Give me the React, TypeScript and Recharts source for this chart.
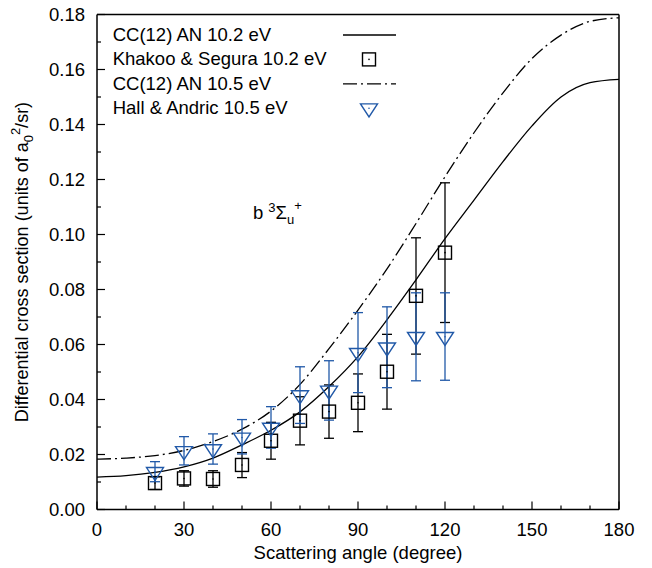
import React from 'react';
import {
    ComposedChart,
    Line,
    Scatter,
    XAxis,
    YAxis,
    ErrorBar,
    Legend,
    ReferenceDot,
} from 'recharts';

// theory curves (CC(12) AN)
const curveAngles = [0, 10, 20, 30, 40, 50, 60, 70, 80, 90, 100, 110, 120, 130, 140, 150, 160, 170, 180];
const cc102 = [0.0118, 0.0123, 0.0135, 0.0155, 0.0187, 0.0235, 0.0288, 0.0355, 0.0447, 0.0556, 0.069, 0.0835, 0.0985, 0.1125, 0.1265, 0.1395, 0.15, 0.1552, 0.1564];
const cc105 = [0.0183, 0.0187, 0.0196, 0.0215, 0.0247, 0.0292, 0.0358, 0.0455, 0.0585, 0.0725, 0.0875, 0.104, 0.121, 0.137, 0.1515, 0.164, 0.1725, 0.1775, 0.1788];

// Khakoo & Segura 10.2 eV
const ksAngles = [20, 30, 40, 50, 60, 70, 80, 90, 100, 110, 120];
const ksValues = [0.0096, 0.0113, 0.0111, 0.0162, 0.025, 0.0323, 0.0356, 0.0388, 0.0501, 0.0777, 0.0934];
const ksLow = [0.0073, 0.0085, 0.0081, 0.0116, 0.0183, 0.0235, 0.0259, 0.0283, 0.0365, 0.0565, 0.068];
const ksHigh = [0.0119, 0.0141, 0.0141, 0.0207, 0.0317, 0.041, 0.0453, 0.0493, 0.0637, 0.0988, 0.1188];

// Hall & Andric 10.5 eV
const haAngles = [20, 30, 40, 50, 60, 70, 80, 90, 100, 110, 120];
const haValues = [0.0137, 0.0213, 0.022, 0.0262, 0.0298, 0.0416, 0.0433, 0.057, 0.059, 0.0628, 0.0628];
const haLow = [0.0101, 0.0162, 0.0165, 0.0202, 0.0223, 0.0313, 0.0325, 0.0425, 0.0443, 0.0468, 0.047];
const haHigh = [0.0174, 0.0265, 0.0275, 0.0327, 0.0374, 0.0519, 0.0541, 0.0716, 0.0737, 0.0788, 0.0788];

const xTicks = [0, 10, 20, 30, 40, 50, 60, 70, 80, 90, 100, 110, 120, 130, 140, 150, 160, 170, 180];
const yTicks = [0, 0.01, 0.02, 0.03, 0.04, 0.05, 0.06, 0.07, 0.08, 0.09, 0.1, 0.11, 0.12, 0.13, 0.14, 0.15, 0.16, 0.17, 0.18];

const legendItems = ['CC(12) AN 10.2 eV', 'Khakoo & Segura 10.2 eV', 'CC(12) AN 10.5 eV', 'Hall & Andric 10.5 eV'];

const FONT = '"Liberation Sans", Arial, sans-serif';
const BLUE = '#2159a8';

const curve102 = curveAngles.map((a, i) => ({ angle: a, y: cc102[i] }));
const curve105 = curveAngles.map((a, i) => ({ angle: a, y: cc105[i] }));
const ksData = ksAngles.map((a, i) => ({ angle: a, y: ksValues[i], err: [ksValues[i] - ksLow[i], ksHigh[i] - ksValues[i]] }));
const haData = haAngles.map((a, i) => ({ angle: a, y: haValues[i], err: [haValues[i] - haLow[i], haHigh[i] - haValues[i]] }));

const Square = (props: any) => {
    const { cx, cy } = props;
    if (cx == null || cy == null) return null;
    return (
        <g>
            <rect x={cx - 6.5} y={cy - 6.5} width={13} height={13} fill="none" stroke="#000" strokeWidth={1.4} />
            <circle cx={cx} cy={cy} r={0.8} fill="#000" />
        </g>
    );
};

const Triangle = (props: any) => {
    const { cx, cy } = props;
    if (cx == null || cy == null) return null;
    return (
        <g>
            <polygon points={`${cx - 8.5},${cy - 4.3} ${cx + 8.5},${cy - 4.3} ${cx},${cy + 8.7}`} fill="none" stroke={BLUE} strokeWidth={1.4} />
            <circle cx={cx} cy={cy} r={0.8} fill={BLUE} />
        </g>
    );
};

const BottomTick = (props: any) => {
    const { x, y, payload } = props;
    const major = payload.value % 30 === 0;
    return (
        <g>
            <line x1={x} x2={x} y1={y} y2={y - (major ? 8 : 4)} stroke="#000" strokeWidth={1.2} />
            {major && (
                <text x={x} y={y + 26} textAnchor="middle" fontSize={18.5} fontFamily={FONT} fill="#000">
                    {payload.value}
                </text>
            )}
        </g>
    );
};

const TopTick = (props: any) => {
    const { x, y, payload } = props;
    const major = payload.value % 30 === 0;
    return <line x1={x} x2={x} y1={y} y2={y + (major ? 8 : 4)} stroke="#000" strokeWidth={1.2} />;
};

const LeftTick = (props: any) => {
    const { x, y, payload } = props;
    const major = Math.round(payload.value * 100) % 2 === 0;
    return (
        <g>
            <line x1={x} x2={x + (major ? 8 : 4)} y1={y} y2={y} stroke="#000" strokeWidth={1.2} />
            {major && (
                <text x={x - 12} y={y + 6} textAnchor="end" fontSize={18.5} fontFamily={FONT} fill="#000">
                    {payload.value.toFixed(2)}
                </text>
            )}
        </g>
    );
};

const RightTick = (props: any) => {
    const { x, y, payload } = props;
    const major = Math.round(payload.value * 100) % 2 === 0;
    return <line x1={x} x2={x - (major ? 8 : 4)} y1={y} y2={y} stroke="#000" strokeWidth={1.2} />;
};

const YTitle = (props: any) => {
    const vb = props.viewBox;
    const cy = vb.y + vb.height / 2;
    return (
        <text transform={`translate(28,${cy}) rotate(-90)`} textAnchor="middle" fontSize={18} fontFamily={FONT} fill="#000">
            Differential cross section (units of a
            <tspan dy={5} fontSize={13}>0</tspan>
            <tspan dy={-13} fontSize={13}>2</tspan>
            <tspan dy={8}>/sr)</tspan>
        </text>
    );
};

const XTitle = (props: any) => {
    const vb = props.viewBox;
    return (
        <text x={vb.x + vb.width / 2} y={vb.y + 49} textAnchor="middle" fontSize={18.5} fontFamily={FONT} fill="#000">
            Scattering angle (degree)
        </text>
    );
};

const StateLabel = (props: any) => {
    const vb = props.viewBox;
    const x = vb.x + vb.width / 2;
    const y = vb.y + vb.height / 2;
    return (
        <text x={x} y={y} fontSize={18.5} fontFamily={FONT} fill="#000">
            b
            <tspan dx={5} dy={-7} fontSize={13}>3</tspan>
            <tspan dy={7}>Σ</tspan>
            <tspan dy={5} fontSize={13}>u</tspan>
            <tspan dy={-14} fontSize={13}>+</tspan>
        </text>
    );
};

const LegendBox = () => {
    const rowH = 24.4;
    return (
        <svg width={300} height={100} style={{ overflow: 'visible' }}>
            {legendItems.map((name, i) => {
                const cy = 13 + i * rowH;
                return (
                    <g key={name}>
                        <text x={4.7} y={cy + 6} fontSize={18.5} fontFamily={FONT} fill="#000">
                            {name}
                        </text>
                        {i === 0 && <line x1={235} x2={288} y1={cy} y2={cy} stroke="#000" strokeWidth={1.3} />}
                        {i === 1 && <Square cx={261} cy={cy} />}
                        {i === 2 && <line x1={235} x2={288} y1={cy} y2={cy} stroke="#000" strokeWidth={1.3} strokeDasharray="14 4 2 4" />}
                        {i === 3 && <Triangle cx={261} cy={cy} />}
                    </g>
                );
            })}
        </svg>
    );
};

const App = () => {
    return (
        <div style={{ position: 'absolute', left: 0, top: 0 }}>
            <ComposedChart width={652} height={568} margin={{ top: 13.5, right: 32, bottom: 0, left: 0 }}>
                <XAxis
                    dataKey="angle"
                    type="number"
                    domain={[0, 180]}
                    ticks={xTicks}
                    interval={0}
                    tickSize={0}
                    tickMargin={0}
                    tick={<BottomTick />}
                    tickLine={false}
                    height={58.5}
                    axisLine={{ stroke: '#000', strokeWidth: 1.5 }}
                    label={<XTitle />}
                />
                <XAxis
                    xAxisId="top"
                    orientation="top"
                    dataKey="angle"
                    type="number"
                    domain={[0, 180]}
                    ticks={xTicks}
                    interval={0}
                    tickSize={0}
                    tickMargin={0}
                    tick={<TopTick />}
                    tickLine={false}
                    height={1}
                    axisLine={{ stroke: '#000', strokeWidth: 1.5 }}
                />
                <YAxis
                    type="number"
                    domain={[0, 0.18]}
                    ticks={yTicks}
                    interval={0}
                    tickSize={0}
                    tickMargin={0}
                    tick={<LeftTick />}
                    tickLine={false}
                    width={97}
                    axisLine={{ stroke: '#000', strokeWidth: 1.5 }}
                    label={<YTitle />}
                />
                <YAxis
                    yAxisId="right"
                    orientation="right"
                    type="number"
                    domain={[0, 0.18]}
                    ticks={yTicks}
                    interval={0}
                    tickSize={0}
                    tickMargin={0}
                    tick={<RightTick />}
                    tickLine={false}
                    width={1}
                    axisLine={{ stroke: '#000', strokeWidth: 1.5 }}
                />
                <Line data={curve102} dataKey="y" type="monotone" stroke="#000" strokeWidth={1.3} dot={false} isAnimationActive={false} />
                <Line data={curve105} dataKey="y" type="monotone" stroke="#000" strokeWidth={1.3} strokeDasharray="14 4 2 4" dot={false} isAnimationActive={false} />
                <Scatter data={ksData} dataKey="y" shape={<Square />} isAnimationActive={false}>
                    <ErrorBar dataKey="err" direction="y" width={5} stroke="#000" strokeWidth={1.3} />
                </Scatter>
                <Scatter data={haData} dataKey="y" shape={<Triangle />} isAnimationActive={false}>
                    <ErrorBar dataKey="err" direction="y" width={5} stroke={BLUE} strokeWidth={1.3} />
                </Scatter>
                <ReferenceDot x={53.8} y={0.1056} r={0} fill="none" stroke="none" label={<StateLabel />} />
                <Legend
                    layout="vertical"
                    align="center"
                    verticalAlign="middle"
                    content={<LegendBox />}
                    wrapperStyle={{ left: 108, top: 22, width: 300, height: 100 }}
                />
            </ComposedChart>
        </div>
    );
};

export default App;
